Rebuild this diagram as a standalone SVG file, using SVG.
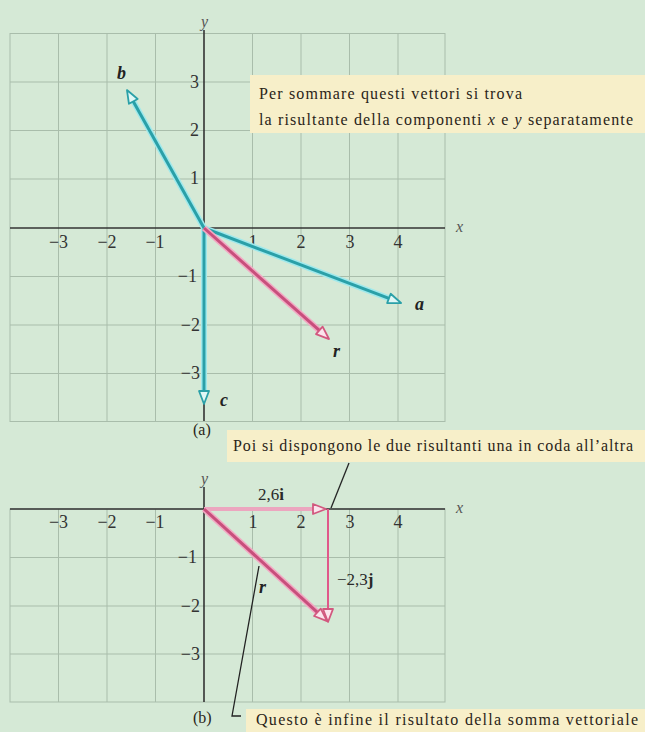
<svg xmlns="http://www.w3.org/2000/svg" width="645" height="732" viewBox="0 0 645 732">
<style>
  .grid { stroke: #a9bdab; stroke-width: 1; fill: none; }
  .axis { stroke: #333; stroke-width: 1.6; fill: none; }
  .tick { font-family: "Liberation Serif", "Times New Roman", serif; font-size: 18px; fill: #333; }
  .axl { font-family: "Liberation Serif", "Times New Roman", serif; font-size: 16px; font-style: italic; fill: #555; }
  .vl { font-family: "Liberation Serif", "Times New Roman", serif; font-size: 18px; font-style: italic; font-weight: bold; fill: #222; }
  .call { font-family: "Liberation Serif", "Times New Roman", serif; font-size: 16px; fill: #2a2418; }
  .box { fill: #f7efc9; }
  .tglow { stroke: #9fe9ec; stroke-width: 6; fill: none; }
  .teal { stroke: #2aa0a8; stroke-width: 3; fill: none; marker-end: url(#ahT); }
  .pglow { stroke: #f2a9c3; stroke-width: 6; fill: none; }
  .pink { stroke: #c84f7c; stroke-width: 3; fill: none; marker-end: url(#ahP); }
  .leader { stroke: #222; stroke-width: 1.3; fill: none; }
  .comp { font-family: "Liberation Serif", "Times New Roman", serif; font-size: 17px; fill: #2a2a2a; }
</style>
<defs>
  <marker id="ahT" markerUnits="userSpaceOnUse" orient="auto" refX="0" refY="0" markerWidth="20" markerHeight="20" overflow="visible">
    <path d="M0,-5 L13,0 L0,5 Z" fill="#dff7f6" stroke="#2aa0a8" stroke-width="1.8" stroke-linejoin="round"/>
  </marker>
  <marker id="ahP" markerUnits="userSpaceOnUse" orient="auto" refX="0" refY="0" markerWidth="20" markerHeight="20" overflow="visible">
    <path d="M0,-5 L13,0 L0,5 Z" fill="#fbe3ec" stroke="#d2587f" stroke-width="1.8" stroke-linejoin="round"/>
  </marker>
</defs>
<rect x="0" y="0" width="645" height="732" fill="#d5e9d6"/>

<!-- Panel (a) -->
<g id="panel-a">
  <g id="grid-a" class="grid">
    <rect x="10" y="33.5" width="435" height="388"/>
    <path d="M58.5,33.5V421.5 M107,33.5V421.5 M155.5,33.5V421.5 M252.5,33.5V421.5 M301,33.5V421.5 M349.5,33.5V421.5 M398,33.5V421.5"/>
    <path d="M10,82H445 M10,130.5H445 M10,179H445 M10,276.5H445 M10,325H445 M10,373.5H445"/>
  </g>
  <g id="axes-a" class="axis">
    <path d="M10,228H445"/>
    <path d="M204,30V421"/>
  </g>
  <text class="axl" x="201" y="27">y</text>
  <text class="axl" x="456" y="232">x</text>
  <g id="ticks-a" class="tick" text-anchor="middle">
    <text x="58.5" y="248">−3</text>
    <text x="107" y="248">−2</text>
    <text x="155" y="248">−1</text>
    <text x="253" y="248">1</text>
    <text x="301" y="248">2</text>
    <text x="350" y="248">3</text>
    <text x="398" y="248">4</text>
  </g>
  <g id="yticks-a" class="tick" text-anchor="end">
    <text x="199" y="88">3</text>
    <text x="199" y="136">2</text>
    <text x="199" y="184">1</text>
    <text x="197" y="282">−1</text>
    <text x="200" y="331">−2</text>
    <text x="200" y="379">−3</text>
  </g>
</g>

<!-- Callout (a) top -->
<g id="callout-1">
  <rect class="box" x="250" y="75" width="395" height="58"/>
  <text class="call" x="259" y="99" textLength="263" lengthAdjust="spacing">Per sommare questi vettori si trova</text>
  <text class="call" x="259" y="125" textLength="374" lengthAdjust="spacing">la risultante della componenti <tspan font-style="italic">x</tspan> e <tspan font-style="italic">y</tspan> separatamente</text>
</g>

<!-- Vectors (a) -->
<g id="vector-a">
  <path class="tglow" d="M204,228L388.9,298.4"/>
  <path class="teal" d="M204,228L388.9,298.4"/>
  <text class="vl" x="415" y="310">a</text>
</g>
<g id="vector-b">
  <path class="tglow" d="M204,228L133.3,101.4"/>
  <path class="teal" d="M204,228L133.3,101.4"/>
  <text class="vl" x="117" y="79">b</text>
</g>
<g id="vector-c">
  <path class="tglow" d="M204,228L204,391"/>
  <path class="teal" d="M204,228L204,391"/>
  <text class="vl" x="220" y="406">c</text>
</g>
<g id="vector-r-a">
  <path class="pglow" d="M204,228L319.3,330.4"/>
  <path class="pink" d="M204,228L319.3,330.4"/>
  <text class="vl" x="333" y="357">r</text>
</g>
<text id="label-a" class="call" x="193" y="435">(a)</text>

<!-- Callout 2 -->
<g id="callout-2">
  <rect class="box" x="227" y="430" width="418" height="32"/>
  <text class="call" x="233" y="451" textLength="400" lengthAdjust="spacing">Poi si dispongono le due risultanti una in coda all’altra</text>
</g>

<!-- Panel (b) -->
<g id="panel-b">
  <g id="grid-b" class="grid">
    <rect x="10" y="509" width="435" height="193"/>
    <path d="M58.5,509V702 M107,509V702 M155.5,509V702 M252.5,509V702 M301,509V702 M349.5,509V702 M398,509V702"/>
    <path d="M10,557.5H445 M10,606H445 M10,654H445"/>
  </g>
  <g id="axes-b" class="axis">
    <path d="M10,509H445"/>
    <path d="M204,487V702"/>
  </g>
  <text class="axl" x="201" y="484">y</text>
  <text class="axl" x="456" y="513">x</text>
  <g id="ticks-b" class="tick" text-anchor="middle">
    <text x="58.5" y="528">−3</text>
    <text x="107" y="528">−2</text>
    <text x="155" y="528">−1</text>
    <text x="253" y="528">1</text>
    <text x="301" y="528">2</text>
    <text x="350" y="528">3</text>
    <text x="398" y="528">4</text>
  </g>
  <g id="yticks-b" class="tick" text-anchor="end">
    <text x="197" y="563">−1</text>
    <text x="200" y="612">−2</text>
    <text x="200" y="660">−3</text>
  </g>
</g>

<!-- Vectors (b) -->
<g id="vector-i">
  <path d="M204,509L313,509" stroke="#eca6bf" stroke-width="4" fill="none" marker-end="url(#ahP)"/>
  <text class="comp" x="258" y="500">2,6<tspan font-weight="bold">i</tspan></text>
</g>
<g id="vector-j">
  <path d="M328,509L328,609" stroke="#e0588a" stroke-width="2" fill="none" marker-end="url(#ahP)"/>
  <text class="comp" x="337" y="585">−2,3<tspan font-weight="bold">j</tspan></text>
</g>
<g id="vector-r-b">
  <path class="pglow" d="M204,509L317.4,612.3"/>
  <path class="pink" d="M204,509L317.4,612.3"/>
  <text class="vl" x="259" y="593">r</text>
</g>
<text id="label-b" class="call" x="193" y="723">(b)</text>

<!-- Callout 3 -->
<g id="callout-3">
  <rect class="box" x="246" y="709" width="399" height="23"/>
  <text class="call" x="256" y="725" textLength="382" lengthAdjust="spacing">Questo è infine il risultato della somma vettoriale</text>
</g>

<!-- Leader lines -->
<g id="connectors">
  <path class="leader" d="M349,463L331,508"/>
  <path class="leader" d="M259,566L232,716L241,716"/>
</g>
</svg>
